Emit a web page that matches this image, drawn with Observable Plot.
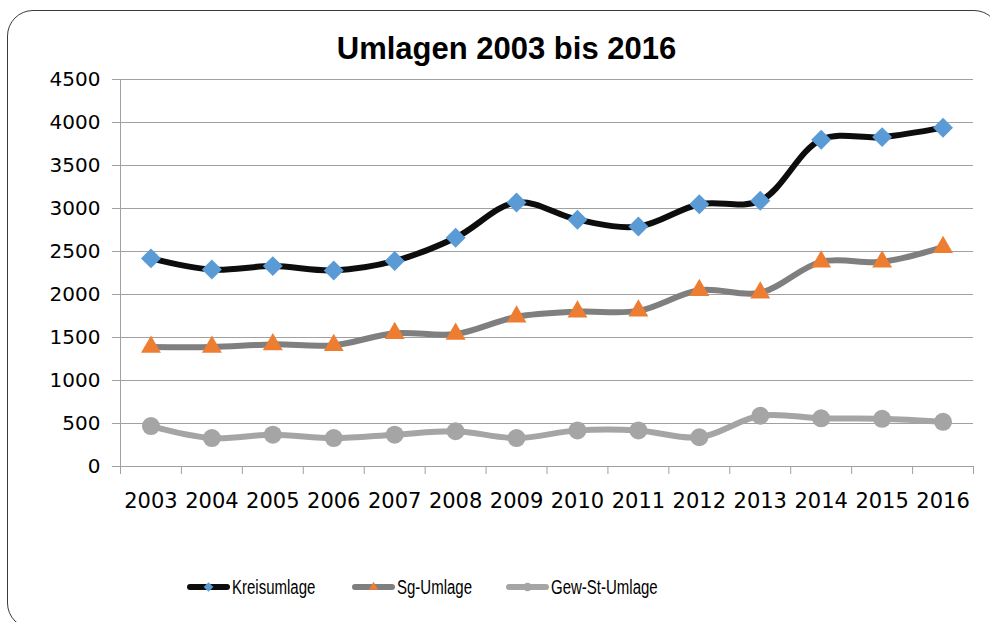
<!DOCTYPE html>
<html>
<head>
<meta charset="utf-8">
<script src="https://cdn.jsdelivr.net/npm/d3@7"></script>
<script src="https://cdn.jsdelivr.net/npm/@observablehq/plot@0.6"></script>
<style>
  html, body { margin: 0; padding: 0; background: #fff; width: 990px; height: 622px; overflow: hidden; }
  #frame { position: absolute; left: 7px; top: 10px; width: 991px; height: 617px; border: 1.5px solid #3a3a3a; border-radius: 26px; }
  #title { position: absolute; left: 0; top: 31px; width: 1013px; text-align: center; font-family: "Liberation Sans", Arial, sans-serif; font-weight: bold; font-size: 31px; color: #000; }
  #chart { position: absolute; left: 0; top: 0; }
  #legend { position: absolute; top: 575px; left: 0; width: 990px; height: 24px; font-family: "Liberation Sans", sans-serif; font-size: 20px; color: #000; }
  .item { position: absolute; top: 0; display: flex; align-items: center; height: 24px; }
  .item svg { display: block; }
  .item span { display: inline-block; transform: scaleX(0.75); transform-origin: 0 50%; white-space: nowrap; }
</style>
</head>
<body>
<div id="frame"></div>
<div id="title">Umlagen 2003 bis 2016</div>
<div id="chart"></div>
<div id="legend"></div>
<script>
const years = ["2003","2004","2005","2006","2007","2008","2009","2010","2011","2012","2013","2014","2015","2016"];
const kreisumlage = [2420, 2290, 2330, 2280, 2390, 2660, 3070, 2870, 2790, 3050, 3090, 3800, 3830, 3940];
const sgUmlage    = [1390, 1390, 1420, 1410, 1550, 1540, 1740, 1800, 1810, 2050, 2020, 2380, 2380, 2550];
const gewStUmlage = [470, 330, 370, 330, 370, 410, 330, 420, 420, 340, 590, 560, 555, 520];
const yTicks = [0, 500, 1000, 1500, 2000, 2500, 3000, 3500, 4000, 4500];
const seriesNames = ["Kreisumlage", "Sg-Umlage", "Gew-St-Umlage"];

const idx = years.map((_, i) => i);
const boundaries = d3.range(years.length + 1).map(i => i - 0.5);
const rows = (vals) => vals.map((v, i) => ({i, v}));

const lineStyle = [
  {stroke: "#0d0d0d", fill: "#5b9bd5", symbol: "diamond2", r: 9},
  {stroke: "#7f7f7f", fill: "#ed7d31", symbol: "triangle2", r: 9.5},
  {stroke: "#a5a5a5", fill: "#a5a5a5", symbol: "circle", r: 9}
];
const allSeries = [kreisumlage, sgUmlage, gewStUmlage];

const marks = [
  Plot.gridY(yTicks, {stroke: "#a0a0a0", strokeOpacity: 1, strokeWidth: 1}),
  Plot.axisY(yTicks, {label: null, tickSize: 8, tickPadding: 12, stroke: "#a0a0a0", fontSize: 20, fill: "#000", fontFamily: "DejaVu Sans", tickFormat: d => String(d)}),
  Plot.axisX(boundaries, {label: null, tickSize: 8, tickFormat: () => "", stroke: "#a0a0a0"}),
  Plot.axisX(idx, {label: null, tickSize: 0, tickPadding: 27, tickFormat: i => years[i], fontSize: 21, fill: "#000", fontFamily: "DejaVu Sans"}),
  Plot.ruleX([-0.5], {stroke: "#a0a0a0"}),
  Plot.ruleY([0], {stroke: "#a0a0a0"})
];
allSeries.forEach((vals, k) => {
  const s = lineStyle[k];
  marks.push(Plot.line(rows(vals), {x: "i", y: "v", stroke: s.stroke, strokeWidth: 6, curve: "catmull-rom", strokeLinecap: "round", strokeLinejoin: "round"}));
  marks.push(Plot.dot(rows(vals), {x: "i", y: "v", symbol: s.symbol, r: s.r, fill: s.fill, stroke: "none"}));
});

const chart = Plot.plot({
  width: 990,
  height: 530,
  marginLeft: 120,
  marginRight: 17,
  marginTop: 79,
  marginBottom: 64,
  style: {background: "transparent", fontFamily: "DejaVu Sans"},
  x: {type: "linear", domain: [-0.5, 13.5], axis: null, label: null},
  y: {type: "linear", domain: [0, 4500], axis: null, label: null},
  marks
});
document.getElementById("chart").appendChild(chart);

// Legend
const legendPos = [
  {lineX: 184},
  {lineX: 349},
  {lineX: 503}
];
const legend = document.getElementById("legend");
seriesNames.forEach((name, k) => {
  const s = lineStyle[k];
  const item = document.createElement("div");
  item.className = "item";
  item.style.left = legendPos[k].lineX + "px";
  const svg = d3.create("svg").attr("width", 48).attr("height", 24);
  svg.append("line").attr("x1", 6).attr("x2", 43).attr("y1", 12).attr("y2", 12)
    .attr("stroke", s.stroke).attr("stroke-width", 6).attr("stroke-linecap", "round");
  const sym = {diamond2: d3.symbolDiamond2, triangle2: d3.symbolTriangle2, circle: d3.symbolCircle}[s.symbol];
  svg.append("path").attr("transform", "translate(24.5,12)")
    .attr("d", d3.symbol(sym, 60)()).attr("fill", s.fill);
  item.appendChild(svg.node());
  const span = document.createElement("span");
  span.textContent = name;
  item.appendChild(span);
  legend.appendChild(item);
});
</script>
</body>
</html>
